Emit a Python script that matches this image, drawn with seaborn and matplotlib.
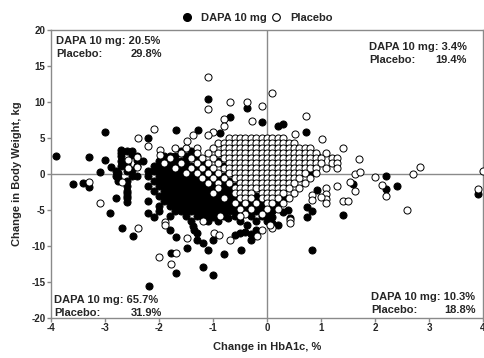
import matplotlib
matplotlib.use("Agg")
import matplotlib.pyplot as plt
from matplotlib.lines import Line2D
import pandas as pd
import seaborn as sns

# ---- data: change in HbA1c (%) vs change in body weight (kg) ----
# dense rows of the placebo cloud: weight -> HbA1c values
pbo_rows = [
    (5.0, [-0.7, -0.6, -0.5, -0.4, -0.3, -0.2, -0.1, 0.0, 0.1, 0.2, 0.3]),
    (4.3, [-0.9, -0.8, -0.7, -0.6, -0.5, -0.4, -0.3, -0.2, -0.1, 0.0, 0.1, 0.2, 0.3, 0.4, 0.5]),
    (3.6, [-1.5, -1.3, -1.0, -0.8, -0.7, -0.6, -0.5, -0.4, -0.3, -0.2, -0.1, 0.0, 0.1, 0.2, 0.3, 0.4, 0.5, 0.6, 0.7, 0.8]),
    (2.9, [-1.6, -1.3, -1.1, -0.9, -0.8, -0.7, -0.6, -0.5, -0.4, -0.3, -0.2, -0.1, 0.0, 0.1, 0.2, 0.3, 0.4, 0.5, 0.6, 0.7, 0.8, 0.9, 1.1]),
    (2.2, [-1.8, -1.4, -1.2, -1.0, -0.8, -0.7, -0.6, -0.5, -0.4, -0.3, -0.2, -0.1, 0.0, 0.1, 0.2, 0.3, 0.4, 0.5, 0.6, 0.7, 0.8, 0.9, 1.0, 1.2, 1.3]),
    (1.5, [-1.9, -1.6, -1.3, -1.1, -0.9, -0.7, -0.6, -0.5, -0.4, -0.3, -0.2, -0.1, 0.0, 0.1, 0.2, 0.3, 0.4, 0.5, 0.6, 0.7, 0.8, 0.9, 1.0, 1.2, 1.3]),
    (0.8, [-1.7, -1.4, -1.2, -1.0, -0.8, -0.7, -0.6, -0.5, -0.4, -0.3, -0.2, -0.1, 0.0, 0.1, 0.2, 0.3, 0.4, 0.5, 0.6, 0.7, 0.8, 0.9, 1.1, 1.3]),
    (0.1, [-1.5, -1.3, -1.1, -0.9, -0.7, -0.6, -0.5, -0.4, -0.3, -0.2, -0.1, 0.0, 0.1, 0.2, 0.3, 0.4, 0.5, 0.6, 0.7, 0.9]),
    (-0.6, [-1.2, -1.0, -0.8, -0.6, -0.5, -0.4, -0.3, -0.2, -0.1, 0.0, 0.1, 0.2, 0.3, 0.4, 0.5, 0.6, 0.8]),
    (-1.3, [-1.1, -0.9, -0.7, -0.5, -0.4, -0.3, -0.2, -0.1, 0.0, 0.1, 0.2, 0.3, 0.4, 0.5, 0.7]),
    (-2.0, [-0.9, -0.6, -0.5, -0.4, -0.3, -0.2, -0.1, 0.0, 0.1, 0.2, 0.3, 0.4, 0.6]),
    (-2.7, [-1.0, -0.6, -0.5, -0.4, -0.3, -0.1, 0.0, 0.1, 0.2, 0.3, 0.5]),
    (-3.4, [-0.8, -0.5, -0.4, -0.3, -0.1, 0.0, 0.1, 0.2, 0.4]),
    (-4.1, [-0.6, -0.4, -0.2, 0.0, 0.1, 0.3]),
    (-4.8, [-0.5, -0.3, 0.0, 0.2]),
    (-5.5, [-0.4, -0.1]),
]

# scattered placebo patients outside the main cloud
pbo_hba1c_extra = [
    0.1, -0.1, 0.72, 0.52, 1.02, 1.4, 1.7, 2.83, 2.7, 4.0, 1.63, 1.72, 2.0, 2.13,
    1.3, 1.54, 2.2, 3.9, 2.6, 1.4, 1.5, 1.63, 1.1, 1.1, 1.1, 1.1, 1.0, 0.83, 0.83,
    0.43, 0.43, 0.1, -0.1,
    -1.09, -1.09, -0.69, -0.37, -0.28, -0.8, -0.8, -1.0, -1.09, -1.37, -1.48,
    -2.09, -2.39, -2.2, -1.7, -2.69, -3.3, -2.4, -2.57, -2.57, -2.4, -1.98, -1.98,
    -3.1, -2.39, -1.89, -1.89, -2.0, -1.69, -1.78, -1.48, -0.98, -0.89, -0.69,
    -0.19, 0.05, -1.19, -0.87, -0.5,
]
pbo_weight_extra = [
    11.3, 9.4, 8.1, 5.6, 4.9, 3.6, 2.1, 1.0, 0.0, 0.4, 0.0, 0.3, -0.4, -1.5,
    -1.6, -1.1, -3.1, -2.1, -5.0, -3.8, -3.8, -2.3, -2.0, -2.8, -3.5, -4.1, -3.2, -2.9, -3.6,
    -6.4, -6.8, -7.5, -7.8,
    13.5, 9.0, 10.0, 10.0, 7.4, 7.6, 6.7, 5.8, 5.4, 5.4, 4.6,
    6.2, 5.0, 3.9, 3.6, -1.1, -1.1, 2.4, 1.9, 0.8, 1.0, 3.3, 2.6,
    -4.0, -7.5, -6.7, -7.1, -11.5, -11.0, -12.5, -8.9, -8.2, -8.5, -9.2,
    -8.6, -7.1, -6.6, -5.9, -5.8,
]

# dense rows of the DAPA 10 mg cloud: weight -> HbA1c values
dapa_rows = [
    (3.2, [-2.6, -2.5, -1.6, -1.4, -0.2, -0.1, 0.0]),
    (2.5, [-2.7, -2.4, -1.9, -1.8, -1.7, -1.5, -1.3, -0.6, 0.2]),
    (1.8, [-2.7, -2.3, -2.0, -1.9, -1.8, -1.7, -1.6, -1.5, -1.2, -0.9, -0.5, 0.1, 0.5]),
    (1.1, [-2.7, -2.6, -2.4, -2.1, -2.0, -1.9, -1.8, -1.7, -1.6, -1.5, -1.4, -1.3, -1.1, -0.8, -0.4, 0.3]),
    (0.4, [-2.8, -2.6, -2.2, -2.1, -2.0, -1.9, -1.8, -1.7, -1.6, -1.5, -1.4, -1.3, -1.2, -1.1, -1.0, -0.7, -0.3, 0.2]),
    (-0.3, [-2.8, -2.5, -2.2, -2.0, -1.9, -1.8, -1.7, -1.6, -1.5, -1.4, -1.3, -1.2, -1.1, -1.0, -0.9, -0.8, -0.6, -0.4, -0.1, 0.1]),
    (-1.0, [-2.6, -2.1, -2.0, -1.9, -1.8, -1.7, -1.6, -1.5, -1.4, -1.3, -1.2, -1.1, -1.0, -0.9, -0.8, -0.7, -0.5, -0.3, 0.0, 0.2]),
    (-1.7, [-2.6, -2.2, -2.0, -1.9, -1.8, -1.7, -1.6, -1.5, -1.4, -1.3, -1.2, -1.1, -1.0, -0.9, -0.8, -0.7, -0.6, -0.4, -0.2, 0.1]),
    (-2.4, [-2.6, -2.1, -1.9, -1.8, -1.7, -1.6, -1.5, -1.4, -1.3, -1.2, -1.1, -1.0, -0.9, -0.8, -0.7, -0.6, -0.5, -0.3, 0.0, 0.2]),
    (-3.1, [-2.6, -2.0, -1.9, -1.8, -1.7, -1.6, -1.5, -1.4, -1.3, -1.2, -1.1, -1.0, -0.9, -0.8, -0.7, -0.6, -0.5, -0.4, -0.2, 0.1, 0.3]),
    (-3.8, [-2.2, -1.9, -1.8, -1.7, -1.6, -1.5, -1.4, -1.3, -1.2, -1.1, -1.0, -0.9, -0.8, -0.7, -0.6, -0.5, -0.4, -0.3, -0.2, -0.1, 0.0, 0.2]),
    (-4.5, [-2.0, -1.8, -1.7, -1.6, -1.5, -1.4, -1.3, -1.2, -1.1, -1.0, -0.9, -0.8, -0.7, -0.6, -0.5, -0.4, -0.3, -0.2, -0.1, 0.0, 0.1]),
    (-5.2, [-2.0, -1.7, -1.6, -1.5, -1.4, -1.3, -1.2, -1.1, -1.0, -0.9, -0.8, -0.7, -0.6, -0.5, -0.4, -0.3, -0.2, -0.1, 0.0, 0.1]),
    (-5.9, [-1.8, -1.5, -1.3, -1.2, -1.1, -1.0, -0.8, -0.6, -0.5, -0.3, -0.1, 0.0]),
    (-6.6, [-1.4, -1.1, -0.9, -0.5, -0.2, 0.0]),
]

# scattered DAPA 10 mg patients outside the main cloud
dapa_hba1c_extra = [
    -0.1, 0.2, 0.3, 0.72, 0.93, 2.2, 2.4, 1.6, 2.2, 3.9, 1.4, 0.83, 0.83, 0.74, 0.74,
    0.39, 0.3, 0.43, 0.1, 0.2, 0.3, 0.0, 0.1, 0.1, 0.2, 0.0, 0.8, 0.93,
    -3.9, -3.3, -3.1, -3.0, -2.89, -3.0, -3.6, -3.4, -3.3, -2.2, -1.69, -1.28,
    -1.09, -0.37, -0.69, -0.87,
    -2.8, -2.9, -2.69, -2.48, -2.6, -2.6, -2.6, -2.2, -2.1, -2.19, -1.8, -1.69,
    -1.78, -1.69, -1.48, -1.3, -1.19, -1.19, -1.09, -1.0, -1.0, -0.8, -0.48,
    -0.6, -0.5, -0.4, -0.3, -0.3, -0.2, -0.37, -1.37, -1.3, -1.35, -1.0, -0.72,
    -2.7, -2.7, -2.5, -2.4, -2.6, -2.5, -2.75, -2.75, -2.75, -2.4,
]
dapa_weight_extra = [
    7.2, 6.7, 6.9, 5.8, 2.5, -0.3, -1.7, -1.4, -2.1, -2.8, -5.7, -10.6, -5.1, -4.6, -6.0,
    -5.0, -5.3, -6.1, -3.7, -3.9, -3.6, -6.0, -6.0, -6.8, -7.1, -4.6, -0.1, -2.2,
    2.5, 2.4, 0.3, 1.9, 1.0, 5.8, -1.4, -1.3, -1.8, 5.0, 6.1, 6.1,
    10.4, 9.2, 7.9, 5.7,
    -3.3, -5.4, -7.5, -8.6, -2.6, -3.3, -3.9, -5.4, -6.0, -15.6, -7.8, -8.8,
    -11.0, -13.7, -10.3, -9.2, -9.6, -12.9, -10.6, -14.0, -9.2, -11.1, -10.6,
    -8.5, -8.2, -8.0, -8.3, -9.2, -7.8, -7.1, -7.2, -8.2, -7.8, -6.0, -6.1,
    3.4, 2.9, 2.6, 2.0, 1.5, 0.6, 0.2, -0.5, -1.0, -0.3,
]

# quadrant percentages: (DAPA 10 mg, placebo)
quad_upper_left = ("20.5%", "29.8%")
quad_upper_right = ("3.4%", "19.4%")
quad_lower_left = ("65.7%", "31.9%")
quad_lower_right = ("10.3%", "18.8%")

x_ticks = [-4, -3, -2, -1, 0, 1, 2, 3, 4]
y_ticks = [-20, -15, -10, -5, 0, 5, 10, 15, 20]


def to_frame(rows, hba1c_extra, weight_extra):
    hba1c, weight = [], []
    for w, hs in rows:
        hba1c.extend(hs)
        weight.extend([w] * len(hs))
    hba1c.extend(hba1c_extra)
    weight.extend(weight_extra)
    return pd.DataFrame({"hba1c": hba1c, "weight": weight})


dapa = to_frame(dapa_rows, dapa_hba1c_extra, dapa_weight_extra)
pbo = to_frame(pbo_rows, pbo_hba1c_extra, pbo_weight_extra)

sns.set_theme(style="white")
plt.rcParams["font.family"] = ["Liberation Sans", "DejaVu Sans"]
plt.rcParams["font.weight"] = "bold"

grey = "#8a8a8a"
fig = plt.figure(figsize=(4.85, 3.58), dpi=100)
ax = fig.add_axes([0.105, 0.112, 0.891, 0.804])

ms = 26
sns.scatterplot(data=dapa, x="hba1c", y="weight", ax=ax, color="black",
                edgecolor="black", linewidth=0.7, s=ms, zorder=3, legend=False)
sns.scatterplot(data=pbo, x="hba1c", y="weight", ax=ax, color="white",
                edgecolor="black", linewidth=0.7, s=ms, zorder=4, legend=False)

ax.axhline(0, color=grey, lw=1.0, zorder=2)
ax.axvline(0, color=grey, lw=1.0, zorder=2)

ax.set_xlim(-4, 4)
ax.set_ylim(-20, 20)
ax.set_xticks(x_ticks)
ax.set_yticks(y_ticks)
ax.set_xticklabels([str(t) for t in x_ticks], fontsize=7, fontweight="bold")
ax.set_yticklabels([str(t) for t in y_ticks], fontsize=7, fontweight="bold")
ax.tick_params(axis="both", direction="out", length=3, width=1, color=grey,
               pad=1, bottom=True, left=True)
for sp in ax.spines.values():
    sp.set_color(grey)
    sp.set_linewidth(1.0)

ax.set_xlabel("Change in HbA1c, %", fontsize=8, fontweight="bold", labelpad=6)
ax.set_ylabel("Change in Body Weight, kg", fontsize=8, fontweight="bold", labelpad=7)

# quadrant annotations
fs = 8.0


def quad_text(x_left, x_right, y_top, vals):
    ax.text(x_left, y_top, "DAPA 10 mg: " + vals[0], transform=ax.transAxes,
            fontsize=fs, fontweight="bold", ha="left", va="top", zorder=6)
    ax.text(x_left, y_top - 0.045, "Placebo:", transform=ax.transAxes, fontsize=fs,
            fontweight="bold", ha="left", va="top", zorder=6)
    ax.text(x_right, y_top - 0.045, vals[1], transform=ax.transAxes, fontsize=fs,
            fontweight="bold", ha="right", va="top", zorder=6)


quad_text(0.012, 0.257, 0.978, quad_upper_left)
quad_text(0.737, 0.961, 0.958, quad_upper_right)
quad_text(0.007, 0.257, 0.080, quad_lower_left)
quad_text(0.741, 0.984, 0.090, quad_lower_right)

handles = [
    Line2D([], [], marker="o", ls="", markerfacecolor="black",
           markeredgecolor="black", markersize=5.5),
    Line2D([], [], marker="o", ls="", markerfacecolor="white",
           markeredgecolor="black", markersize=5.5, markeredgewidth=0.8),
]
fig.legend(handles, ["DAPA 10 mg", "Placebo"], loc="center",
           bbox_to_anchor=(0.531, 0.950), ncol=2, frameon=False,
           prop={"size": 8, "weight": "bold"}, handlelength=0.8,
           handletextpad=0.9, columnspacing=0.4)

fig.savefig("out.png", dpi=100)
